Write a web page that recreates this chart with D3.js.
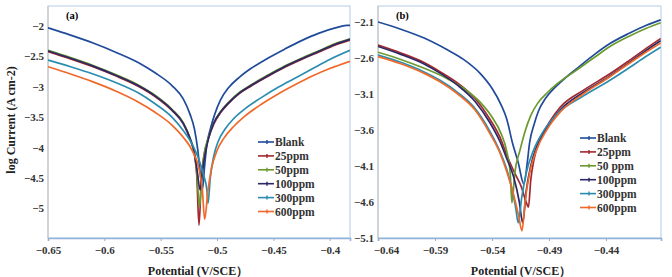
<!DOCTYPE html>
<html>
<head>
<meta charset="utf-8">
<script src="https://cdn.jsdelivr.net/npm/d3@7"></script>
<style>
  body { margin: 0; background: #fff; }
</style>
</head>
<body>
<svg id="chart" width="672" height="277"></svg>
<script>
const serif = "'Liberation Serif', 'DejaVu Serif', serif";

// series names and colours
const seriesNames = ["Blank", "25ppm", "50ppm", "100ppm", "300ppm", "600ppm"];
const seriesNamesB = ["Blank", "25ppm", "50 ppm", "100ppm", "300ppm", "600ppm"];
const seriesColors = ["#1f4b9a", "#a3282e", "#6c9a2e", "#2c2766", "#2a8db0", "#f0692a"];

// panel (a) : [potential V/SCE, log current]
const blankA = [[-0.65,-2.03],[-0.63,-2.15],[-0.61,-2.28],[-0.59,-2.43],[-0.57,-2.6],[-0.555,-2.77],[-0.54,-2.98],[-0.53,-3.2],[-0.524,-3.45],[-0.52,-3.7],[-0.517,-4.05],[-0.515,-4.4],[-0.513,-4.7],[-0.511,-4.3],[-0.509,-3.95],[-0.506,-3.7],[-0.502,-3.45],[-0.497,-3.22],[-0.49,-3.02],[-0.48,-2.84],[-0.47,-2.7],[-0.455,-2.53],[-0.44,-2.38],[-0.425,-2.24],[-0.41,-2.12],[-0.395,-2.03],[-0.385,-1.99],[-0.382,-1.99]];
const ppm25A = [[-0.65,-2.42],[-0.63,-2.54],[-0.61,-2.67],[-0.59,-2.82],[-0.57,-2.99],[-0.555,-3.16],[-0.54,-3.39],[-0.53,-3.61],[-0.524,-3.86],[-0.52,-4.12],[-0.518,-4.45],[-0.516,-5.28],[-0.514,-4.55],[-0.512,-4.18],[-0.508,-3.87],[-0.503,-3.62],[-0.497,-3.43],[-0.49,-3.28],[-0.48,-3.11],[-0.47,-2.99],[-0.455,-2.83],[-0.44,-2.68],[-0.425,-2.55],[-0.41,-2.43],[-0.395,-2.31],[-0.382,-2.23]];
const ppm50A = [[-0.65,-2.40],[-0.63,-2.52],[-0.61,-2.65],[-0.59,-2.80],[-0.57,-2.97],[-0.555,-3.14],[-0.54,-3.37],[-0.53,-3.59],[-0.524,-3.84],[-0.52,-4.1],[-0.518,-4.4],[-0.5155,-4.98],[-0.5135,-4.45],[-0.5115,-4.12],[-0.5075,-3.83],[-0.5025,-3.58],[-0.4965,-3.4],[-0.49,-3.26],[-0.48,-3.09],[-0.47,-2.97],[-0.455,-2.81],[-0.44,-2.66],[-0.425,-2.53],[-0.41,-2.41],[-0.395,-2.29],[-0.382,-2.21]];
const ppm100A = [[-0.65,-2.41],[-0.63,-2.53],[-0.61,-2.66],[-0.59,-2.81],[-0.57,-2.98],[-0.555,-3.15],[-0.54,-3.38],[-0.53,-3.6],[-0.524,-3.85],[-0.52,-4.1],[-0.5175,-4.4],[-0.515,-4.7],[-0.513,-4.4],[-0.511,-4.15],[-0.5075,-3.85],[-0.503,-3.6],[-0.497,-3.42],[-0.49,-3.27],[-0.48,-3.1],[-0.47,-2.98],[-0.455,-2.82],[-0.44,-2.67],[-0.425,-2.54],[-0.41,-2.42],[-0.395,-2.3],[-0.382,-2.22]];
const ppm300A = [[-0.65,-2.56],[-0.63,-2.67],[-0.61,-2.79],[-0.59,-2.93],[-0.57,-3.1],[-0.555,-3.28],[-0.54,-3.5],[-0.53,-3.72],[-0.522,-3.95],[-0.516,-4.2],[-0.512,-4.45],[-0.509,-4.7],[-0.508,-4.92],[-0.506,-4.5],[-0.503,-4.15],[-0.499,-3.9],[-0.493,-3.7],[-0.485,-3.52],[-0.475,-3.36],[-0.46,-3.17],[-0.445,-3.0],[-0.43,-2.85],[-0.415,-2.7],[-0.4,-2.55],[-0.382,-2.4]];
const ppm600A = [[-0.65,-2.67],[-0.63,-2.79],[-0.61,-2.92],[-0.59,-3.07],[-0.57,-3.25],[-0.555,-3.42],[-0.54,-3.63],[-0.53,-3.83],[-0.522,-4.05],[-0.516,-4.35],[-0.513,-4.7],[-0.511,-5.18],[-0.508,-4.7],[-0.505,-4.35],[-0.5,-4.05],[-0.494,-3.85],[-0.485,-3.65],[-0.475,-3.48],[-0.46,-3.28],[-0.445,-3.11],[-0.43,-2.96],[-0.415,-2.82],[-0.4,-2.7],[-0.382,-2.58]];

// panel (b)
const blankB = [[-0.64,-2.1],[-0.62,-2.2],[-0.6,-2.32],[-0.58,-2.48],[-0.565,-2.62],[-0.55,-2.82],[-0.54,-3.02],[-0.532,-3.25],[-0.527,-3.45],[-0.522,-3.78],[-0.517,-4.05],[-0.512,-4.35],[-0.509,-4.05],[-0.507,-3.78],[-0.503,-3.52],[-0.499,-3.33],[-0.493,-3.16],[-0.486,-3.03],[-0.478,-2.91],[-0.465,-2.74],[-0.45,-2.55],[-0.4365,-2.4],[-0.42,-2.26],[-0.405,-2.15],[-0.392,-2.07]];
const ppm25B = [[-0.64,-2.42],[-0.62,-2.53],[-0.6,-2.66],[-0.5856,-2.79],[-0.57,-2.95],[-0.555,-3.16],[-0.5418,-3.45],[-0.533,-3.7],[-0.527,-3.95],[-0.52,-4.2],[-0.514,-4.4],[-0.51,-4.6],[-0.508,-4.67],[-0.506,-4.3],[-0.503,-4.0],[-0.498,-3.75],[-0.49,-3.5],[-0.48,-3.28],[-0.46,-3.05],[-0.4365,-2.82],[-0.42,-2.64],[-0.405,-2.47],[-0.392,-2.33]];
const ppm50B = [[-0.64,-2.52],[-0.62,-2.62],[-0.6,-2.74],[-0.58,-2.88],[-0.565,-3.02],[-0.55,-3.22],[-0.54,-3.42],[-0.532,-3.65],[-0.527,-3.9],[-0.524,-4.2],[-0.5225,-4.61],[-0.52,-4.2],[-0.5154,-3.88],[-0.511,-3.62],[-0.506,-3.4],[-0.5,-3.23],[-0.492,-3.09],[-0.483,-2.96],[-0.465,-2.76],[-0.45,-2.59],[-0.4365,-2.44],[-0.42,-2.3],[-0.405,-2.19],[-0.392,-2.11]];
const ppm100B = [[-0.64,-2.44],[-0.62,-2.55],[-0.6,-2.68],[-0.5856,-2.81],[-0.57,-2.98],[-0.555,-3.2],[-0.5418,-3.5],[-0.533,-3.76],[-0.527,-4.0],[-0.521,-4.25],[-0.516,-4.6],[-0.513,-4.89],[-0.51,-4.45],[-0.506,-4.1],[-0.5,-3.8],[-0.49,-3.53],[-0.48,-3.32],[-0.46,-3.08],[-0.4365,-2.85],[-0.42,-2.67],[-0.405,-2.5],[-0.392,-2.36]];
const ppm300B = [[-0.64,-2.56],[-0.62,-2.66],[-0.6,-2.79],[-0.5856,-2.91],[-0.57,-3.08],[-0.555,-3.3],[-0.5418,-3.62],[-0.533,-3.9],[-0.527,-4.15],[-0.522,-4.45],[-0.519,-4.7],[-0.517,-4.89],[-0.514,-4.55],[-0.51,-4.2],[-0.504,-3.9],[-0.495,-3.62],[-0.483,-3.38],[-0.46,-3.13],[-0.4365,-2.91],[-0.42,-2.74],[-0.405,-2.58],[-0.392,-2.45]];
const ppm600B = [[-0.64,-2.58],[-0.62,-2.68],[-0.6,-2.81],[-0.5856,-2.93],[-0.57,-3.1],[-0.555,-3.32],[-0.5418,-3.65],[-0.533,-3.92],[-0.527,-4.18],[-0.521,-4.5],[-0.5165,-4.8],[-0.5137,-5.0],[-0.511,-4.6],[-0.507,-4.2],[-0.501,-3.88],[-0.492,-3.6],[-0.48,-3.35],[-0.46,-3.1],[-0.4365,-2.86],[-0.42,-2.68],[-0.405,-2.52],[-0.392,-2.39]];

// axis ticks
const xTicksA = [-0.65, -0.6, -0.55, -0.5, -0.45, -0.4];
const yTicksA = [-2, -2.5, -3, -3.5, -4, -4.5, -5];
const xTicksB = [-0.64, -0.59, -0.54, -0.49, -0.44];
const yTicksB = [-2.1, -2.6, -3.1, -3.6, -4.1, -4.6, -5.1];

const svg = d3.select("#chart").attr("font-family", serif);

function drawPanel(opt) {
    const x = d3.scaleLinear().domain(opt.xDomain).range([opt.left, opt.right]);
    const y = d3.scaleLinear().domain(opt.yDomain).range([opt.bottom, opt.top]);

    const g = svg.append("g");

    // frame
    g.append("rect")
        .attr("x", opt.left).attr("y", opt.top)
        .attr("width", opt.right - opt.left).attr("height", opt.bottom - opt.top)
        .attr("fill", "none").attr("stroke", "#b4cbe6").attr("stroke-width", 1);
    g.append("line")
        .attr("x1", opt.left).attr("x2", opt.left)
        .attr("y1", opt.top).attr("y2", opt.bottom)
        .attr("stroke", "#c8c8c8").attr("stroke-width", 1.2);

    // x axis
    const xAxis = d3.axisBottom(x).tickValues(opt.xTicks).tickSize(3)
        .tickFormat(d => d3.format("")(d));
    const xa = g.append("g").attr("transform", `translate(0,${opt.bottom})`).call(xAxis)
        .attr("font-family", serif);
    xa.select(".domain").attr("stroke", "#8fb3dc").attr("stroke-width", 1.6);
    xa.selectAll(".tick line").attr("stroke", "#aaa");
    xa.selectAll("text").attr("font-size", 11).attr("font-weight", "bold")
        .attr("fill", "#333").attr("dy", "0.9em")
        .attr("dx", d => (opt.shiftFirst && d === opt.xTicks[0]) ? opt.shiftFirst : 0);

    // y axis
    const yAxis = d3.axisLeft(y).tickValues(opt.yTicks).tickSize(0).tickPadding(4)
        .tickFormat(d => d3.format("")(d));
    const ya = g.append("g").attr("transform", `translate(${opt.left},0)`).call(yAxis)
        .attr("font-family", serif);
    ya.select(".domain").remove();
    ya.selectAll("text").attr("font-size", 11).attr("font-weight", "bold").attr("fill", "#333");

    // curves
    const clipId = "clip" + opt.id;
    svg.append("clipPath").attr("id", clipId).append("rect")
        .attr("x", opt.left).attr("y", opt.top)
        .attr("width", opt.right - opt.left).attr("height", opt.bottom - opt.top);

    const line = d3.line()
        .x(d => x(d[0]))
        .y(d => y(d[1]))
        .curve(d3.curveMonotoneX);

    g.append("g").attr("clip-path", `url(#${clipId})`)
        .selectAll("path")
        .data(opt.series)
        .join("path")
        .attr("d", d => line(d.values))
        .attr("fill", "none")
        .attr("stroke", d => d.color)
        .attr("stroke-width", 1.7)
        .attr("stroke-linejoin", "round");

    // panel tag
    g.append("text")
        .attr("x", opt.left + 18).attr("y", opt.top + 13)
        .attr("font-size", 10.5).attr("font-weight", "bold")
        .text(opt.tag);

    // legend
    const leg = g.append("g").attr("transform", `translate(${opt.legX},${opt.legY})`);
    const item = leg.selectAll("g")
        .data(opt.series)
        .join("g")
        .attr("transform", (d, i) => `translate(0,${i * 13.9})`);
    item.append("line")
        .attr("x1", 0).attr("x2", 16).attr("y1", 0).attr("y2", 0)
        .attr("stroke", d => d.color).attr("stroke-width", 1.6);
    item.append("line")
        .attr("x1", 9).attr("x2", 9).attr("y1", -2).attr("y2", 2)
        .attr("stroke", d => d.color).attr("stroke-width", 1.4);
    item.append("text")
        .attr("x", 17).attr("y", 4)
        .attr("font-size", 11.5).attr("font-weight", "bold").attr("fill", "#333")
        .text(d => d.name);

    // x label
    g.append("text")
        .attr("x", opt.xLabelX).attr("y", 275)
        .attr("text-anchor", "middle")
        .attr("font-size", 12).attr("font-weight", "bold").attr("fill", "#222")
        .text("Potential (V/SCE）");
}

const valuesA = [blankA, ppm25A, ppm50A, ppm100A, ppm300A, ppm600A];
const valuesB = [blankB, ppm25B, ppm50B, ppm100B, ppm300B, ppm600B];

drawPanel({
    id: "a", tag: "(a)",
    left: 48, right: 350, top: 6, bottom: 238,
    xDomain: [-0.65, -0.382], yDomain: [-5.49, -1.67],
    xTicks: xTicksA, yTicks: yTicksA,
    series: seriesNames.map((n, i) => ({ name: n, color: seriesColors[i], values: valuesA[i] })),
    legX: 258, legY: 142, xLabelX: 198
});

drawPanel({
    id: "b", tag: "(b)",
    left: 378, right: 661, top: 6, bottom: 238,
    xDomain: [-0.64, -0.3917], yDomain: [-5.1, -1.878],
    xTicks: xTicksB, yTicks: yTicksB, shiftFirst: 8,
    series: seriesNamesB.map((n, i) => ({ name: n, color: seriesColors[i], values: valuesB[i] })),
    legX: 580, legY: 138, xLabelX: 521
});

// shared y label
svg.append("text")
    .attr("transform", "translate(15,120) rotate(-90)")
    .attr("text-anchor", "middle")
    .attr("font-size", 12).attr("font-weight", "bold").attr("fill", "#222")
    .text("log Current (A cm-2)");
</script>
</body>
</html>
